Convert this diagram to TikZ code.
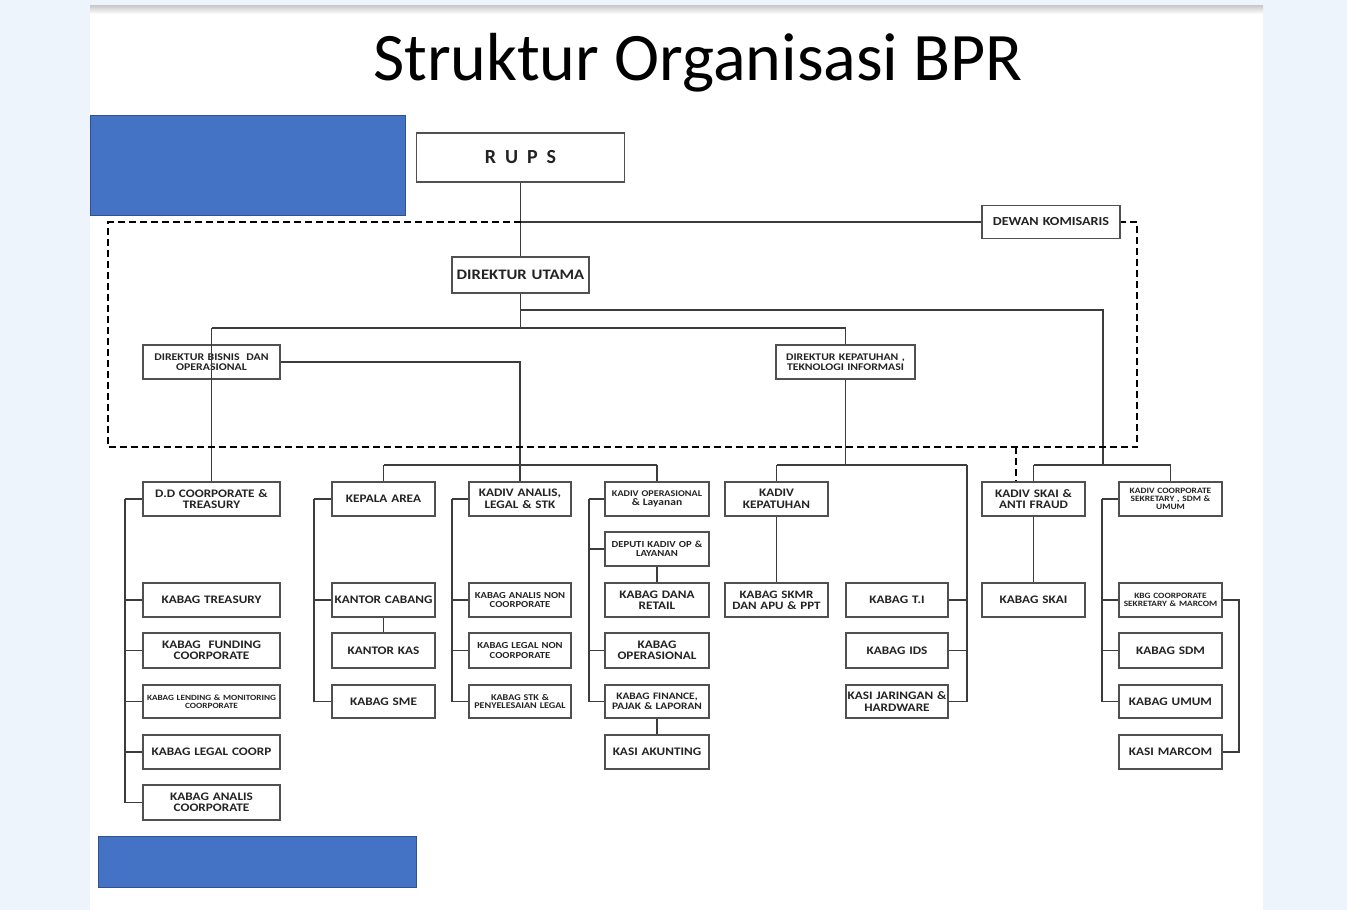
\documentclass[tikz,border=0pt]{standalone}
\usepackage{fontspec}
\setmainfont{Carlito}
\newfontfamily\bxf[FakeStretch=1.15]{Carlito}
\usetikzlibrary{backgrounds}
\pgfdeclarelayer{bottom}
\pgfsetlayers{bottom,background,main}
\definecolor{bgc}{RGB}{237,244,252}
\definecolor{blu}{RGB}{68,114,196}
\definecolor{bluedge}{RGB}{47,82,143}
\definecolor{lc}{RGB}{60,60,60}
\definecolor{bc}{RGB}{80,80,80}
\definecolor{tc}{RGB}{35,35,35}
\newcommand{\fs}[1]{\fontsize{#1}{#1}\selectfont}
\begin{document}
\begin{tikzpicture}[x=1pt,y=-1pt,
  conn/.style={draw=lc, line width=1.4pt},
  dsh/.style={draw=black, line width=2.2pt, dash pattern=on 7pt off 4pt},
  bx/.style 2 args={draw=bc, line width=1.6pt, fill=white, inner xsep=0pt, inner ysep=0pt,
     text width=#1pt, minimum height=#2pt, align=center, text=tc, font=\bxf\bfseries\fs{11.5}},
  sbx/.style={bx={103}{34}},
  bluebox/.style={fill=blu, draw=bluedge, line width=1pt}]
\useasboundingbox (0,0) rectangle (1347,910);
\begin{pgfonlayer}{bottom}
\fill[bgc] (0,0) rectangle (1347,910);
\fill[white] (90,5) rectangle (1263,910);
\shade[top color=black!22, bottom color=white] (90,5) rectangle (1263,14);
\end{pgfonlayer}
% title
\node[font=\fs{68}, text=black, anchor=base] (title) at (698,80) {Struktur Organisasi BPR};
% blue boxes
\path[bluebox] (90,115) rectangle (405,215);
\path[bluebox] (98,836) rectangle (416,887);

% top nodes
\node[bx={208}{49}, font=\bfseries\fs{20}] (rups) at (520.5,157.5) {R\hspace{9pt}U\hspace{9pt}P\hspace{9pt}S};
\node[bx={138}{33}, font=\bxf\bfseries\fs{12.3}] (dk) at (1051,222) {DEWAN KOMISARIS};
\node[bx={137}{36}, font=\bxf\bfseries\fs{14.5}] (du) at (520.5,275) {DIREKTUR UTAMA};
\node[bx={137}{34}, font=\bxf\bfseries\fs{10.3}] (dbo) at (211.5,362) {DIREKTUR BISNIS \ DAN\\OPERASIONAL};
\node[bx={139}{34}, font=\bxf\bfseries\fs{10.2}] (dkt) at (845.5,362) {DIREKTUR KEPATUHAN ,\\TEKNOLOGI INFORMASI};

% column 1
\node[bx={137}{34}] (dd) at (211.5,499) {D.D COORPORATE \&\\TREASURY};
\node[bx={137}{34}] (c1a) at (211.5,600) {KABAG TREASURY};
\node[bx={137}{35}] (c1b) at (211.5,650.5) {KABAG \ FUNDING\\COORPORATE};
\node[bx={137}{33}, font=\bxf\bfseries\fs{8}] (c1c) at (211.5,701.5) {KABAG LENDING \& MONITORING\\COORPORATE};
\node[bx={137}{34}] (c1d) at (211.5,752) {KABAG LEGAL COORP};
\node[bx={137}{35}] (c1e) at (211.5,802.5) {KABAG ANALIS\\COORPORATE};
% column 2
\node[sbx] (ka) at (383.5,499) {KEPALA AREA};
\node[sbx] (kc) at (383.5,600) {KANTOR CABANG};
\node[bx={103}{35}] (kk) at (383.5,650.5) {KANTOR KAS};
\node[bx={103}{33}] (sme) at (383.5,701.5) {KABAG SME};
% column 3
\node[bx={102}{34}] (kal) at (520,499) {KADIV ANALIS,\\LEGAL \& STK};
\node[bx={102}{34}, font=\bxf\bfseries\fs{9.2}] (c3a) at (520,600) {KABAG ANALIS NON\\COORPORATE};
\node[bx={102}{35}, font=\bxf\bfseries\fs{9.2}] (c3b) at (520,650.5) {KABAG LEGAL NON\\COORPORATE};
\node[bx={102}{33}, font=\bxf\bfseries\fs{8.8}] (c3c) at (520,701.5) {KABAG STK \&\\PENYELESAIAN LEGAL};
% column 4
\node[bx={104}{34}, font=\bxf\bfseries\fs{8.8}] (kop) at (657,499) {KADIV OPERASIONAL\\\fs{10}\& Layanan};
\node[bx={104}{34}, font=\bxf\bfseries\fs{9.3}] (dep) at (657,549) {DEPUTI KADIV OP \&\\LAYANAN};
\node[bx={104}{34}] (dana) at (657,600) {KABAG DANA\\RETAIL};
\node[bx={104}{35}] (kopr) at (657,650.5) {KABAG\\OPERASIONAL};
\node[bx={104}{33}, font=\bxf\bfseries\fs{9.9}] (fin) at (657,701.5) {KABAG FINANCE,\\PAJAK \& LAPORAN};
\node[bx={104}{34}] (akun) at (657,752) {KASI AKUNTING};
% column 5
\node[sbx] (kep) at (776.5,499) {KADIV\\KEPATUHAN};
\node[sbx, font=\bxf\bfseries\fs{11.3}] (skmr) at (776.5,600) {KABAG SKMR\\DAN APU \& PPT};
% column 6
\node[bx={102}{34}] (ti) at (897,600) {KABAG T.I};
\node[bx={102}{35}] (ids) at (897,650.5) {KABAG IDS};
\node[bx={102}{33}] (jar) at (897,701.5) {KASI JARINGAN \&\\HARDWARE};
% column 7
\node[sbx] (skai) at (1033.5,499) {KADIV SKAI \&\\ANTI FRAUD};
\node[sbx] (kskai) at (1033.5,600) {KABAG SKAI};
% column 8
\node[sbx, font=\bxf\bfseries\fs{8.2}] (sek) at (1170.5,499) {KADIV COORPORATE\\SEKRETARY , SDM \&\\UMUM};
\node[sbx, font=\bxf\bfseries\fs{8.1}] (kbg) at (1170.5,600) {KBG COORPORATE\\SEKRETARY \& MARCOM};
\node[bx={103}{35}] (sdm) at (1170.5,650.5) {KABAG SDM};
\node[bx={103}{33}] (umum) at (1170.5,701.5) {KABAG UMUM};
\node[sbx] (mar) at (1170.5,752) {KASI MARCOM};

% coordinates
\coordinate (j1) at (520.5,222);
\coordinate (j3) at (520.5,310);
\coordinate (jm) at (520.5,328);
\coordinate (jL) at (211.5,328);
\coordinate (jR) at (845.5,328);
\coordinate (s0) at (1103,310);
\coordinate (s1) at (1103,465);
\coordinate (sL) at (1033.5,465);
\coordinate (sR) at (1170.5,465);
\coordinate (a1) at (520,465);
\coordinate (aL) at (383.5,465);
\coordinate (aR) at (657,465);
\coordinate (k1) at (845.5,465);
\coordinate (kL) at (776.5,465);
\coordinate (kR) at (967,465);
\coordinate (b1) at (125,499);
\coordinate (b2) at (314,499);
\coordinate (b3) at (452,499);
\coordinate (b4) at (589,499);
\coordinate (b8) at (1102,499);
\coordinate (b8r) at (1239,600);
\coordinate (d1) at (108,222);
\coordinate (d2) at (108,447);
\coordinate (d3) at (1137,447);
\coordinate (d4) at (1137,222);
\coordinate (ds) at (1016,447);

\begin{pgfonlayer}{background}
\draw[conn] (rups.south) -- (du.north);
\draw[conn] (j1) -- (dk.west);
\draw[conn] (du.south) -- (jm);
\draw[conn] (jL) -- (jR);
\draw[conn] (jR) -- (dkt.north);
\draw[conn] (dkt.south) -- (k1);
\draw[conn] (j3) -- (s0) -- (s1);
\draw[conn] (sL) -- (sR);
\draw[conn] (sL) -- (skai.north);
\draw[conn] (sR) -- (sek.north);
\draw[conn] (dbo.east) -| (a1);
\draw[conn] (aL) -- (aR);
\draw[conn] (aL) -- (ka.north);
\draw[conn] (a1) -- (kal.north);
\draw[conn] (aR) -- (kop.north);
\draw[conn] (kL) -- (kR);
\draw[conn] (kL) -- (kep.north);
\foreach \n in {dd,c1a,c1b,c1c,c1d,c1e} \draw[conn] (b1) |- (\n.west);
\foreach \n in {ka,kc,sme} \draw[conn] (b2) |- (\n.west);
\draw[conn] (kc.south) -- (kk.north);
\foreach \n in {kal,c3a,c3b,c3c} \draw[conn] (b3) |- (\n.west);
\foreach \n in {kop,dep,kopr,fin} \draw[conn] (b4) |- (\n.west);
\draw[conn] (dep.south) -- (dana.north);
\draw[conn] (fin.south) -- (akun.north);
\draw[conn] (kep.south) -- (skmr.north);
\foreach \n in {ti,ids,jar} \draw[conn] (kR) |- (\n.east);
\draw[conn] (skai.south) -- (kskai.north);
\foreach \n in {sek,kbg,sdm,umum} \draw[conn] (b8) |- (\n.west);
\draw[conn] (kbg.east) -- (b8r) |- (mar.east);
\end{pgfonlayer}
\draw[conn] (jL) -- (dd.north);
\draw[dsh] (j1) -- (d1) -- (d2) -- (d3) -- (d4) -- (dk.east);
\draw[dsh] (ds) -- (ds |- skai.north);
\end{tikzpicture}
\end{document}
